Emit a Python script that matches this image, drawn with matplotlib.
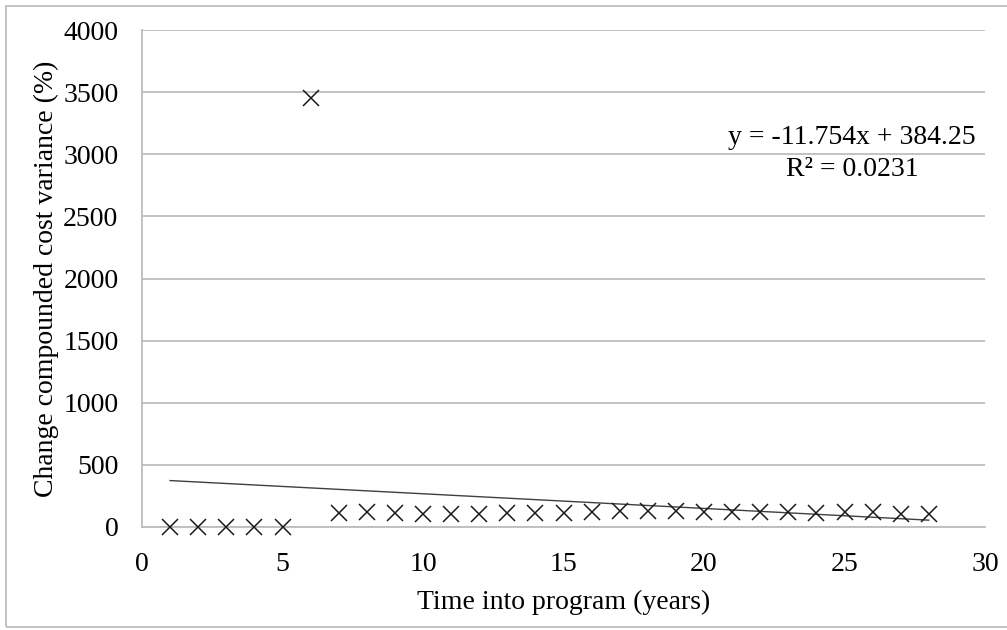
import numpy as np
import matplotlib
matplotlib.use("Agg")
import matplotlib.pyplot as plt
from matplotlib.patches import Rectangle

# years into program and compounded cost variance (%)
years = list(range(1, 29))
variance = [2, 2, 2, 2, 2, 3450, 110, 118, 110, 105, 105, 105, 110, 115,
            112, 118, 128, 130, 130, 124, 120, 120, 118, 116, 122, 118, 104, 104]
eq_text = "y = -11.754x + 384.25\nR² = 0.0231"

plt.rcParams['font.family'] = ['Liberation Serif', 'DejaVu Serif']

fig = plt.figure(figsize=(10.07, 6.30), dpi=100)
ax = fig.add_axes([142/1007, 1 - 527/630, (985-142)/1007, (527-30)/630])

# linear trendline fitted to the data
x = np.array(years, dtype=float)
y = np.array(variance, dtype=float)
k, b = np.polyfit(x, y, 1)
ax.plot([x[0], x[-1]], [k*x[0] + b, k*x[-1] + b], color='#404040', lw=1.0, zorder=2)

ax.plot(x, y, linestyle='none', marker='x', markersize=11, markeredgewidth=1.1,
        color='#1a1a1a', zorder=3, clip_on=False)

ax.set_xlim(0, 30)
ax.set_ylim(0, 4000)
ax.set_xticks(range(0, 31, 5))
ax.set_yticks(range(0, 4001, 500))
ax.yaxis.grid(True, color='#bdbdbd', lw=1.3)
ax.set_axisbelow(True)
for s in ['top', 'right']:
    ax.spines[s].set_visible(False)
for s in ['left', 'bottom']:
    ax.spines[s].set_color('#bdbdbd')
    ax.spines[s].set_linewidth(1.3)
ax.tick_params(axis='both', length=0, labelsize=20, colors='black')
ax.tick_params(axis='y', pad=17)
ax.tick_params(axis='x', pad=18)

ax.set_xlabel("Time into program (years)", fontsize=20, labelpad=9)
ax.set_ylabel("Change compounded cost variance (%)", fontsize=20, labelpad=3)

ax.text(25.27, 3006, eq_text, fontsize=20, ha='center', va='center',
        multialignment='center', linespacing=1.35)

# outer chart border
fig.patches.append(Rectangle((6/1007, 3/630), 1.2, 621/630, transform=fig.transFigure,
                             fill=False, edgecolor='#bdbdbd', lw=1.3))

fig.savefig("out.png", dpi=100)
